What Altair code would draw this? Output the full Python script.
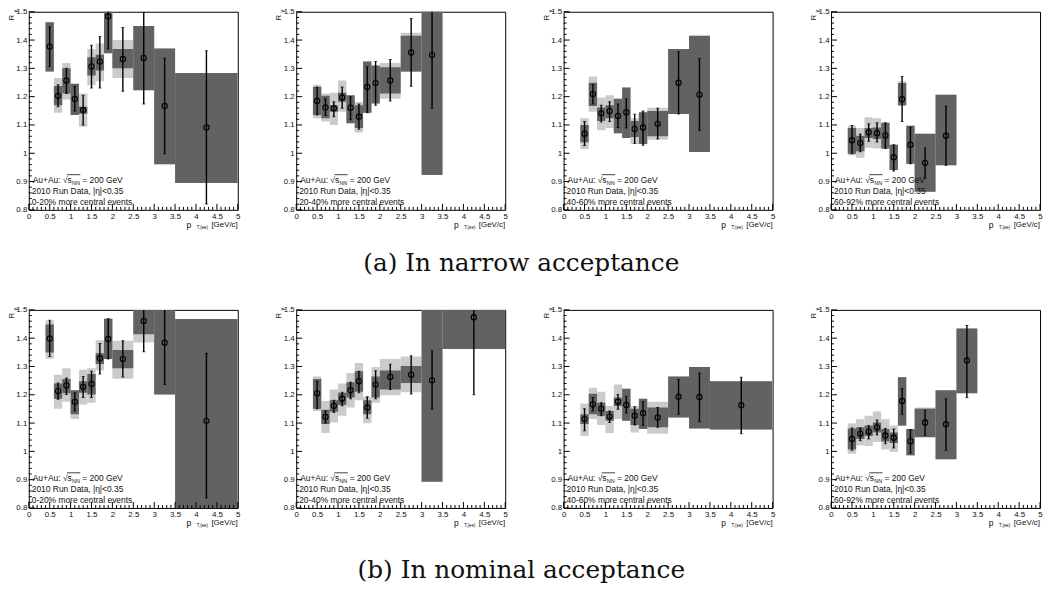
import altair as alt
import pandas as pd

# ---------------- data ----------------
PT_CENTER = [0.5, 0.7, 0.9, 1.1, 1.3, 1.5, 1.7, 1.9, 2.25, 2.75, 3.25, 4.25]
PT_LO = [0.4, 0.6, 0.8, 1.0, 1.2, 1.4, 1.6, 1.8, 2.0, 2.5, 3.0, 3.5]
PT_HI = [0.6, 0.8, 1.0, 1.2, 1.4, 1.6, 1.8, 2.0, 2.5, 3.0, 3.5, 5.0]

CENT_LABELS = ["0-20% more central events", "20-40% more central events",
               "40-60% more central events", "60-92% more central events"]
CAPTIONS = ["(a) In narrow acceptance", "(b) In nominal acceptance"]

# narrow acceptance, 0-20%
A1_VAL = [1.377, 1.203, 1.257, 1.192, 1.153, 1.307, 1.324, 1.484, 1.333, 1.337, 1.167, 1.091]
A1_STAT_LO = [1.307, 1.164, 1.211, 1.149, 1.100, 1.231, 1.231, 1.368, 1.219, 1.174, 0.998, 0.821]
A1_STAT_HI = [1.447, 1.242, 1.300, 1.237, 1.205, 1.382, 1.413, 1.550, 1.444, 1.498, 1.337, 1.362]
A1_DARK_LO = [1.289, 1.170, 1.211, 1.135, 1.140, 1.275, 1.292, 1.353, 1.300, 1.223, 0.961, 0.895]
A1_DARK_HI = [1.463, 1.238, 1.300, 1.246, 1.164, 1.339, 1.348, 1.550, 1.368, 1.450, 1.370, 1.284]
A1_LIGHT_LO = [1.289, 1.143, 1.190, 1.135, 1.094, 1.240, 1.254, 1.353, 1.266, 1.223, 0.961, 0.895]
A1_LIGHT_HI = [1.463, 1.266, 1.319, 1.246, 1.211, 1.368, 1.388, 1.550, 1.400, 1.450, 1.370, 1.284]

# narrow acceptance, 20-40%
A2_VAL = [1.185, 1.162, 1.159, 1.197, 1.161, 1.129, 1.234, 1.248, 1.257, 1.356, 1.347]
A2_STAT_LO = [1.135, 1.133, 1.129, 1.159, 1.118, 1.085, 1.143, 1.170, 1.185, 1.237, 1.159]
A2_STAT_HI = [1.234, 1.193, 1.182, 1.234, 1.200, 1.174, 1.307, 1.324, 1.331, 1.476, 1.550]
A2_DARK_LO = [1.135, 1.124, 1.147, 1.182, 1.106, 1.089, 1.143, 1.176, 1.211, 1.289, 0.923]
A2_DARK_HI = [1.234, 1.203, 1.170, 1.214, 1.205, 1.170, 1.324, 1.310, 1.304, 1.415, 1.550]
A2_LIGHT_LO = [1.124, 1.112, 1.100, 1.147, 1.106, 1.073, 1.143, 1.176, 1.193, 1.287, 0.923]
A2_LIGHT_HI = [1.242, 1.211, 1.214, 1.257, 1.205, 1.180, 1.324, 1.310, 1.319, 1.426, 1.550]

# narrow acceptance, 40-60%
A3_VAL = [1.069, 1.209, 1.141, 1.149, 1.132, 1.145, 1.086, 1.091, 1.104, 1.249, 1.207]
A3_STAT_LO = [1.027, 1.174, 1.110, 1.112, 1.091, 1.089, 1.034, 1.028, 1.050, 1.139, 1.081]
A3_STAT_HI = [1.112, 1.243, 1.170, 1.182, 1.174, 1.193, 1.138, 1.149, 1.159, 1.359, 1.335]
A3_DARK_LO = [1.039, 1.167, 1.114, 1.124, 1.071, 1.054, 1.057, 1.033, 1.060, 1.139, 1.004]
A3_DARK_HI = [1.100, 1.249, 1.162, 1.170, 1.193, 1.232, 1.114, 1.145, 1.149, 1.368, 1.415]
A3_LIGHT_LO = [1.015, 1.147, 1.081, 1.089, 1.071, 1.054, 1.033, 1.033, 1.048, 1.139, 1.004]
A3_LIGHT_HI = [1.124, 1.271, 1.197, 1.205, 1.193, 1.232, 1.124, 1.145, 1.161, 1.368, 1.415]

# narrow acceptance, 60-92%
A4_VAL = [1.046, 1.036, 1.074, 1.071, 1.063, 0.986, 1.191, 1.030, 0.966, 1.062]
A4_STAT_LO = [0.998, 1.005, 1.042, 1.040, 1.017, 0.937, 1.112, 0.963, 0.912, 0.958]
A4_STAT_HI = [1.098, 1.068, 1.104, 1.108, 1.108, 1.030, 1.271, 1.092, 1.019, 1.167]
A4_DARK_LO = [0.998, 1.007, 1.054, 1.050, 1.017, 0.941, 1.170, 0.963, 0.864, 0.958]
A4_DARK_HI = [1.089, 1.062, 1.089, 1.091, 1.108, 1.030, 1.248, 1.097, 1.069, 1.207]
A4_LIGHT_LO = [0.993, 0.984, 1.019, 1.017, 1.017, 0.941, 1.167, 0.963, 0.864, 0.958]
A4_LIGHT_HI = [1.098, 1.089, 1.127, 1.124, 1.108, 1.030, 1.254, 1.097, 1.069, 1.207]

# nominal acceptance, 0-20%
B1_VAL = [1.399, 1.213, 1.233, 1.175, 1.228, 1.238, 1.329, 1.397, 1.326, 1.461, 1.384, 1.108]
B1_STAT_LO = [1.335, 1.184, 1.201, 1.143, 1.190, 1.190, 1.273, 1.326, 1.263, 1.352, 1.236, 0.835]
B1_STAT_HI = [1.463, 1.242, 1.259, 1.207, 1.265, 1.283, 1.381, 1.469, 1.391, 1.550, 1.550, 1.347]
B1_DARK_LO = [1.349, 1.186, 1.205, 1.131, 1.207, 1.201, 1.309, 1.326, 1.294, 1.414, 1.201, 0.750]
B1_DARK_HI = [1.448, 1.240, 1.256, 1.216, 1.248, 1.273, 1.347, 1.469, 1.358, 1.550, 1.550, 1.468]
B1_LIGHT_LO = [1.327, 1.151, 1.175, 1.114, 1.166, 1.172, 1.286, 1.326, 1.257, 1.385, 1.201, 0.750]
B1_LIGHT_HI = [1.463, 1.271, 1.294, 1.216, 1.288, 1.294, 1.393, 1.469, 1.391, 1.550, 1.550, 1.468]

# nominal acceptance, 20-40%
B2_VAL = [1.205, 1.122, 1.161, 1.186, 1.216, 1.248, 1.155, 1.236, 1.263, 1.271, 1.251, 1.474]
B2_STAT_LO = [1.151, 1.100, 1.137, 1.161, 1.186, 1.207, 1.117, 1.186, 1.219, 1.203, 1.149, 1.200]
B2_STAT_HI = [1.248, 1.143, 1.181, 1.209, 1.244, 1.283, 1.193, 1.285, 1.308, 1.338, 1.356, 1.550]
B2_DARK_LO = [1.151, 1.097, 1.140, 1.164, 1.190, 1.211, 1.131, 1.190, 1.219, 1.242, 0.893, 1.362]
B2_DARK_HI = [1.256, 1.147, 1.181, 1.207, 1.244, 1.283, 1.181, 1.265, 1.286, 1.302, 1.550, 1.550]
B2_LIGHT_LO = [1.143, 1.065, 1.102, 1.126, 1.155, 1.181, 1.099, 1.172, 1.198, 1.209, 0.893, 1.362]
B2_LIGHT_HI = [1.265, 1.178, 1.219, 1.240, 1.277, 1.312, 1.193, 1.298, 1.326, 1.335, 1.550, 1.550]

# nominal acceptance, 40-60%
B3_VAL = [1.114, 1.166, 1.151, 1.123, 1.176, 1.164, 1.126, 1.135, 1.120, 1.193, 1.192, 1.163]
B3_STAT_LO = [1.073, 1.143, 1.126, 1.102, 1.149, 1.135, 1.093, 1.091, 1.085, 1.131, 1.105, 1.062]
B3_STAT_HI = [1.151, 1.190, 1.172, 1.143, 1.201, 1.195, 1.158, 1.175, 1.155, 1.254, 1.277, 1.262]
B3_DARK_LO = [1.097, 1.131, 1.126, 1.108, 1.160, 1.108, 1.093, 1.079, 1.085, 1.120, 1.081, 1.077]
B3_DARK_HI = [1.131, 1.204, 1.172, 1.143, 1.190, 1.221, 1.151, 1.186, 1.155, 1.265, 1.298, 1.248]
B3_LIGHT_LO = [1.054, 1.114, 1.093, 1.065, 1.114, 1.108, 1.067, 1.079, 1.062, 1.120, 1.081, 1.077]
B3_LIGHT_HI = [1.169, 1.225, 1.211, 1.160, 1.236, 1.221, 1.160, 1.186, 1.175, 1.265, 1.298, 1.248]

# nominal acceptance, 60-92%
B4_VAL = [1.044, 1.062, 1.070, 1.085, 1.056, 1.048, 1.178, 1.036, 1.102, 1.096, 1.321]
B4_STAT_LO = [1.004, 1.038, 1.044, 1.058, 1.027, 1.012, 1.131, 0.994, 1.056, 1.004, 1.190]
B4_STAT_HI = [1.083, 1.083, 1.091, 1.111, 1.081, 1.079, 1.222, 1.077, 1.145, 1.186, 1.445]
B4_DARK_LO = [1.007, 1.044, 1.054, 1.067, 1.035, 1.030, 1.091, 0.986, 1.050, 0.972, 1.205]
B4_DARK_HI = [1.081, 1.085, 1.091, 1.102, 1.079, 1.067, 1.262, 1.079, 1.151, 1.216, 1.434]
B4_LIGHT_LO = [0.992, 1.021, 1.019, 1.033, 1.007, 0.998, 1.091, 0.986, 1.050, 0.972, 1.205]
B4_LIGHT_HI = [1.099, 1.114, 1.126, 1.141, 1.114, 1.091, 1.262, 1.079, 1.155, 1.216, 1.434]

# axis ticks
Y_MAJOR = [0.8, 0.9, 1.0, 1.1, 1.2, 1.3, 1.4, 1.5]
Y_MINOR = [round(0.8 + 0.02 * i, 2) for i in range(36) if i % 5]
X_MAJOR = [0, 0.5, 1, 1.5, 2, 2.5, 3, 3.5, 4, 4.5, 5]
X_MINOR = [round(0.1 * i, 1) for i in range(51) if i % 5]

# ---------------- styling ----------------
FONT = "Liberation Sans"
SERIF = "DejaVu Serif"
W, H = 211, 200
XS = alt.Scale(domain=[0, 5], nice=False, zero=False)
YS = alt.Scale(domain=[0.8, 1.5], nice=False, zero=False)
DARK = "#626262"
LIGHT = "#cbcbcb"
INK = "#111111"


def xaxis():
    return alt.Axis(values=X_MAJOR, format="~g", ticks=False, domain=False, grid=False,
                    labelFont=FONT, labelFontSize=8, labelColor=INK, labelPadding=3,
                    labelFlush=False, labelOverlap=False, title=None)


def yaxis():
    return alt.Axis(values=Y_MAJOR, format="~g", ticks=False, domain=False, grid=False,
                    labelFont=FONT, labelFontSize=8, labelColor=INK, labelPadding=2,
                    labelFlush=False, labelOverlap=False, title=None)


def txt(text, x, y, size, align="left", font=FONT, angle=None, baseline="middle"):
    kw = dict(text=text, align=align, baseline=baseline, fontSize=size, font=font, color=INK)
    if angle is not None:
        kw["angle"] = angle
    return alt.Chart(pd.DataFrame({"a": [0]})).mark_text(**kw).encode(
        x=alt.value(x), y=alt.value(y))


def make_panel(val, slo, shi, dlo, dhi, llo, lhi, cent, caption=None, cap_y=None):
    n = len(val)
    df = pd.DataFrame({
        "pt": PT_CENTER[:n], "lo": PT_LO[:n], "hi": PT_HI[:n],
        "val": val, "slo": slo, "shi": shi,
        "dlo": dlo, "dhi": dhi, "llo": llo, "lhi": lhi,
    })
    base = alt.Chart(df)
    X = lambda f: alt.X(f, type="quantitative", scale=XS, axis=xaxis())
    Y = lambda f: alt.Y(f, type="quantitative", scale=YS, axis=yaxis())

    light = base.mark_rect(color=LIGHT, clip=True).encode(x=X("lo"), x2="hi", y=Y("llo"), y2="lhi")
    dark = base.mark_rect(color=DARK, clip=True).encode(x=X("lo"), x2="hi", y=Y("dlo"), y2="dhi")
    err = base.mark_rule(color="black", strokeWidth=1.4, clip=True).encode(
        x=X("pt"), y=Y("slo"), y2="shi")
    cap_lo = base.mark_tick(orient="horizontal", size=3, thickness=1, color="black", clip=True).encode(
        x=X("pt"), y=Y("slo"))
    cap_hi = base.mark_tick(orient="horizontal", size=3, thickness=1, color="black", clip=True).encode(
        x=X("pt"), y=Y("shi"))
    pts = base.mark_point(shape="circle", filled=False, size=28, strokeWidth=1.1,
                          color="black", opacity=1, clip=True).encode(x=X("pt"), y=Y("val"))

    ymaj = alt.Chart(pd.DataFrame({"v": Y_MAJOR})).mark_rule(color="black", strokeWidth=1).encode(
        x=alt.value(0), x2=alt.value(6), y=Y("v"))
    ymin = alt.Chart(pd.DataFrame({"v": Y_MINOR})).mark_rule(color="black", strokeWidth=1).encode(
        x=alt.value(0), x2=alt.value(3), y=Y("v"))
    xmaj = alt.Chart(pd.DataFrame({"v": X_MAJOR})).mark_rule(color="black", strokeWidth=1).encode(
        x=X("v"), y=alt.value(H), y2=alt.value(H - 6))
    xmin = alt.Chart(pd.DataFrame({"v": X_MINOR})).mark_rule(color="black", strokeWidth=1).encode(
        x=X("v"), y=alt.value(H), y2=alt.value(H - 3))

    layers = [light, dark, err, cap_lo, cap_hi, pts, ymaj, ymin, xmaj, xmin]

    # annotation box
    layers += [
        txt("Au+Au: √s", 4, 170, 8.5),
        txt("NN", 43.6, 172.5, 5.5),
        txt("= 200 GeV", 54, 170, 8.5),
        alt.Chart(pd.DataFrame({"a": [0]})).mark_rule(color=INK, strokeWidth=0.8).encode(
            x=alt.value(38.5), x2=alt.value(52), y=alt.value(164.5)),
        txt("2010 Run Data, |η|<0.35", 3, 181, 8.5),
        txt(cent, 3, 192, 8.5),
    ]
    # axis titles
    layers += [
        txt("R", -13, 3, 8, align="right", angle=270, baseline="bottom"),
        txt("γ", -11, -2, 5.5, align="right", angle=270, baseline="bottom"),
        txt("[GeV/c]", W, 215, 8, align="right"),
        txt("T,(ee)", W - 30, 218, 4.5, align="right"),
        txt("p", W - 47, 215, 8.5, align="right"),
    ]
    if caption is not None:
        layers.append(txt(caption, 227.3, cap_y, 25, align="center", font=SERIF))

    return alt.layer(*layers).properties(width=W, height=H)


panels = [
    make_panel(A1_VAL, A1_STAT_LO, A1_STAT_HI, A1_DARK_LO, A1_DARK_HI, A1_LIGHT_LO, A1_LIGHT_HI, CENT_LABELS[0]),
    make_panel(A2_VAL, A2_STAT_LO, A2_STAT_HI, A2_DARK_LO, A2_DARK_HI, A2_LIGHT_LO, A2_LIGHT_HI, CENT_LABELS[1],
               caption=CAPTIONS[0], cap_y=254),
    make_panel(A3_VAL, A3_STAT_LO, A3_STAT_HI, A3_DARK_LO, A3_DARK_HI, A3_LIGHT_LO, A3_LIGHT_HI, CENT_LABELS[2]),
    make_panel(A4_VAL, A4_STAT_LO, A4_STAT_HI, A4_DARK_LO, A4_DARK_HI, A4_LIGHT_LO, A4_LIGHT_HI, CENT_LABELS[3]),
    make_panel(B1_VAL, B1_STAT_LO, B1_STAT_HI, B1_DARK_LO, B1_DARK_HI, B1_LIGHT_LO, B1_LIGHT_HI, CENT_LABELS[0]),
    make_panel(B2_VAL, B2_STAT_LO, B2_STAT_HI, B2_DARK_LO, B2_DARK_HI, B2_LIGHT_LO, B2_LIGHT_HI, CENT_LABELS[1],
               caption=CAPTIONS[1], cap_y=263),
    make_panel(B3_VAL, B3_STAT_LO, B3_STAT_HI, B3_DARK_LO, B3_DARK_HI, B3_LIGHT_LO, B3_LIGHT_HI, CENT_LABELS[2]),
    make_panel(B4_VAL, B4_STAT_LO, B4_STAT_HI, B4_DARK_LO, B4_DARK_HI, B4_LIGHT_LO, B4_LIGHT_HI, CENT_LABELS[3]),
]

chart = alt.concat(
    *panels, columns=4, spacing={"row": 101, "column": 59}, bounds="flush"
).properties(
    padding={"left": -1, "top": -4, "right": 0, "bottom": 0},
    background="white",
).configure_view(stroke="black", strokeWidth=1)

chart.save("out.html", embed_options={"renderer": "svg", "actions": False})
